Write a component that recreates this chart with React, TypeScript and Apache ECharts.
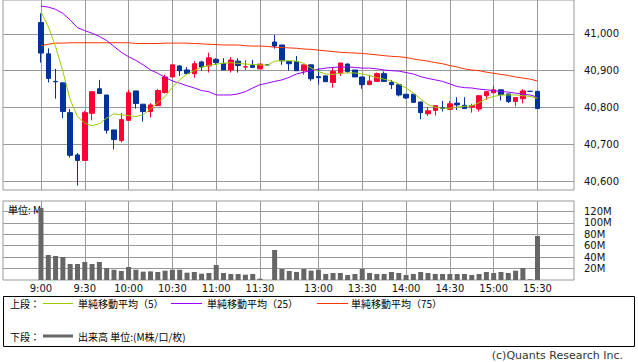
import React, { useEffect, useRef } from 'react';
import * as echarts from 'echarts';

// 5-minute slots (slot 31 is the lunch-break placeholder)
const times = [
  '9:00','9:05','9:10','9:15','9:20','9:25','9:30','9:35','9:40','9:45','9:50','9:55',
  '10:00','10:05','10:10','10:15','10:20','10:25','10:30','10:35','10:40','10:45','10:50','10:55',
  '11:00','11:05','11:10','11:15','11:20','11:25','11:30','12:25',
  '12:30','12:35','12:40','12:45','12:50','12:55',
  '13:00','13:05','13:10','13:15','13:20','13:25','13:30','13:35','13:40','13:45','13:50','13:55',
  '14:00','14:05','14:10','14:15','14:20','14:25','14:30','14:35','14:40','14:45','14:50','14:55',
  '15:00','15:05','15:10','15:15','15:20','15:25','15:30'
];

const openP = [
  41031,40946,40871,40867,40786,40671,40656,40784,40851,40834,
  40739,40710,40765,40845,40809,40789,40805,40841,40883,40913,
  40902,40892,40924,40913,40931,40920,40902,40926,40910,40914,
  40905,40916,40978,40970,40925,40925,40900,40916,40884,40886,
  40868,40894,40918,40902,40883,40862,40871,40892,40868,40862,
  40836,40836,40815,40783,40792,40800,40795,40812,40806,40801,
  40796,40832,40840,40848,40837,40816,40824,40844,40844
];
const closeP = [
  40948,40879,40870,40789,40670,40656,40786,40843,40838,40738,
  40713,40767,40840,40811,40789,40807,40846,40883,40916,40900,
  40892,40919,40910,40935,40922,40902,40929,40914,40911,40909,
  40918,40916,40967,40927,40919,40900,40916,40878,40881,40870,
  40898,40921,40898,40883,40862,40872,40892,40871,40862,40834,
  40826,40814,40786,40791,40805,40797,40810,40807,40797,40805,
  40832,40843,40848,40835,40816,40827,40845,40844,40797
];
const lowP = [
  40922,40868,40824,40771,40664,40588,40656,40765,40838,40729,
  40686,40705,40765,40797,40762,40773,40805,40838,40883,40886,
  40892,40881,40900,40895,40916,40902,40895,40895,40902,40909,
  40905,40916,40960,40916,40900,40900,40889,40872,40862,40870,
  40854,40886,40894,40883,40851,40862,40871,40871,40850,40830,
  40823,40814,40768,40777,40778,40789,40793,40793,40797,40786,
  40789,40821,40840,40819,40812,40803,40811,40844,40797
];
const highP = [
  41056,40961,40905,40867,40796,40676,40791,40843,40875,40834,
  40739,40785,40848,40845,40809,40812,40850,40889,40916,40915,
  40910,40926,40927,40949,40934,40934,40937,40934,40929,40929,
  40918,40916,40997,40970,40925,40940,40916,40916,40907,40886,
  40907,40921,40920,40902,40883,40889,40895,40898,40875,40862,
  40836,40836,40815,40801,40805,40818,40818,40828,40828,40810,
  40834,40843,40859,40848,40837,40827,40850,40844,40844
];

const sma5 = [
  41060,41020,40966,40898,40821,40775,40758,40750,40756,40771,
  40783,40780,40778,40775,40780,40796,40813,40830,40855,40875,
  40891,40900,40910,40914,40918,40920,40922,40920,40918,40917,
  40916,40915,40926,40927,40927,40926,40920,40907,40898,40891,
  40890,40893,40894,40894,40891,40887,40881,40877,40872,40864,
  40853,40839,40823,40808,40801,40798,40798,40801,40803,40805,
  40813,40824,40830,40834,40834,40834,40832,40830,40825
];
const sma25 = [
  41076,41073,41067,41056,41038,41017,41009,41002,40993,40982,
  40966,40950,40938,40928,40916,40902,40893,40882,40872,40866,
  40859,40853,40846,40843,40834,40834,40834,40837,40843,40853,
  40862,40866,40871,40875,40882,40891,40896,40900,40904,40907,
  40909,40910,40910,40909,40907,40907,40905,40902,40900,40899,
  40895,40891,40884,40879,40875,40871,40864,40857,40854,40853,
  40850,40848,40846,40843,40842,40839,40836,40834,40828
];
const sma75 = [
  40968,40972,40975,40975,40976,40976,40976,40976,40976,40976,
  40976,40976,40976,40974,40974,40974,40974,40975,40975,40975,
  40975,40974,40973,40972,40971,40970,40970,40970,40968,40967,
  40967,40966,40964,40963,40962,40961,40959,40958,40956,40954,
  40952,40950,40949,40948,40947,40945,40943,40941,40939,40938,
  40936,40932,40929,40926,40922,40919,40914,40910,40905,40902,
  40900,40896,40893,40890,40887,40883,40880,40877,40872
];

// volume in millions
const volume = [
  125.8,43.7,41.9,40.2,28,28,31.5,28,31.5,21,
  18,15.7,22.7,18,14.6,15.1,14,16.3,18,18,
  12.8,14,11,12.2,26.2,12.2,10.5,10.5,9.3,10.5,
  2.3,0,52.4,19.2,15.7,14,19.2,16.3,18,10.5,
  12.2,12.2,8.7,10.5,19.2,12.2,10.5,10.5,14,12.2,
  8.7,10.5,14,12.2,10.5,10.5,10.5,10.5,10.5,8.7,
  10.5,14,12.2,14,12.2,16.3,21,1.2,76.9
];

const tickSlots = [0, 6, 12, 18, 24, 30, 38, 44, 50, 56, 62, 68];
const tickLabels = ['9:00','9:30','10:00','10:30','11:00','11:30','13:00','13:30','14:00','14:30','15:00','15:30'];
const priceTicks = [40600, 40700, 40800, 40900, 41000];
const volTicks = [20, 40, 60, 80, 100, 120];

const legendItems = ['単純移動平均（5）', '単純移動平均（25）', '単純移動平均（75）'];

export default function App() {
  const ref = useRef<HTMLDivElement>(null);

  useEffect(() => {
    const chart = echarts.init(ref.current as HTMLDivElement, null, { renderer: 'svg' });
    const gridColor = '#999';
    const labelFont = { fontFamily: 'DejaVu Sans', fontSize: 10, color: '#111' };
    const cjk = '"Noto Sans CJK JP"';

    const candleData = times.map((t, i) => [i, openP[i], closeP[i], lowP[i], highP[i]]);
    const lineData = (arr: number[]) => arr.map((v, i) => [i, v]);
    const volData = volume.map((v, i) => [i, v]);

    const xBase = {
      type: 'value' as const,
      min: -5.2,
      max: 73,
      axisLine: { show: false },
      axisTick: { show: false, customValues: tickSlots },
      splitLine: { show: true, lineStyle: { color: gridColor, width: 1 } },
    };

    const option: any = {
      animation: false,
      backgroundColor: '#fff',
      grid: [
        { left: 3, right: 64, top: 0, height: 190, show: true, borderColor: gridColor, borderWidth: 1, backgroundColor: 'transparent' },
        { left: 3, right: 64, top: 201, height: 79, show: true, borderColor: gridColor, borderWidth: 1, backgroundColor: 'transparent' },
      ],
      xAxis: [
        { ...xBase, gridIndex: 0, axisLabel: { show: false, customValues: tickSlots } },
        {
          ...xBase,
          gridIndex: 1,
          axisLabel: {
            show: true,
            customValues: tickSlots,
            margin: 3,
            ...labelFont,
            formatter: (v: number) => {
              const k = tickSlots.indexOf(Math.round(v));
              return k >= 0 ? tickLabels[k] : '';
            },
          },
        },
      ],
      yAxis: [
        {
          type: 'value',
          gridIndex: 0,
          position: 'right',
          min: 40575.6,
          max: 41092.3,
          axisLine: { show: false },
          axisTick: { show: true, length: 6, customValues: priceTicks, lineStyle: { color: gridColor } },
          axisLabel: {
            customValues: priceTicks,
            margin: 10,
            ...labelFont,
            formatter: (v: number) => v.toLocaleString('en-US'),
          },
          splitLine: { show: true, lineStyle: { color: gridColor, width: 1 } },
        },
        {
          type: 'value',
          gridIndex: 1,
          position: 'right',
          min: 0,
          max: 138,
          axisLine: { show: false },
          axisTick: { show: true, length: 6, customValues: volTicks, lineStyle: { color: gridColor } },
          axisLabel: {
            customValues: volTicks,
            margin: 10,
            ...labelFont,
            formatter: (v: number) => v + 'M',
          },
          splitLine: { show: true, lineStyle: { color: gridColor, width: 1 } },
        },
      ],
      series: [
        {
          type: 'candlestick',
          xAxisIndex: 0,
          yAxisIndex: 0,
          barWidth: 5,
          data: candleData,
          itemStyle: {
            color: '#ff0033',
            color0: '#003399',
            borderColor: '#ff0033',
            borderColor0: '#003399',
            borderWidth: 1,
          },
          z: 2,
        },
        {
          type: 'line', xAxisIndex: 0, yAxisIndex: 0, data: lineData(sma75), symbol: 'none',
          lineStyle: { color: '#ff3300', width: 1 }, z: 3,
        },
        {
          type: 'line', xAxisIndex: 0, yAxisIndex: 0, data: lineData(sma25), symbol: 'none',
          lineStyle: { color: '#9900ff', width: 1 }, z: 3,
        },
        {
          type: 'line', xAxisIndex: 0, yAxisIndex: 0, data: lineData(sma5), symbol: 'none',
          lineStyle: { color: '#99cc00', width: 1 }, z: 3,
        },
        {
          type: 'bar', xAxisIndex: 1, yAxisIndex: 1, data: volData, barWidth: 5,
          itemStyle: { color: '#666666' }, z: 2,
        },
      ],
      graphic: [
        { type: 'text', z: 1, style: { text: '単位: M', x: 8, y: 209, verticalAlign: 'middle', font: `10px ${cjk}`, fill: '#000' } },
        { type: 'rect', shape: { x: 3.5, y: 296.5, width: 631, height: 50 }, style: { fill: '#fff', stroke: '#000', lineWidth: 1 } },
        { type: 'text', style: { text: '上段：', x: 10, y: 303.5, verticalAlign: 'middle', font: `10px ${cjk}`, fill: '#000' } },
        { type: 'line', shape: { x1: 43, y1: 303.5, x2: 73, y2: 303.5 }, style: { stroke: '#99cc00', lineWidth: 1 } },
        { type: 'text', style: { text: legendItems[0], x: 78, y: 303.5, verticalAlign: 'middle', font: `10px ${cjk}`, fill: '#000' } },
        { type: 'line', shape: { x1: 171, y1: 303.5, x2: 202, y2: 303.5 }, style: { stroke: '#9900ff', lineWidth: 1 } },
        { type: 'text', style: { text: legendItems[1], x: 207, y: 303.5, verticalAlign: 'middle', font: `10px ${cjk}`, fill: '#000' } },
        { type: 'line', shape: { x1: 317, y1: 303.5, x2: 348, y2: 303.5 }, style: { stroke: '#ff3300', lineWidth: 1 } },
        { type: 'text', style: { text: legendItems[2], x: 351, y: 303.5, verticalAlign: 'middle', font: `10px ${cjk}`, fill: '#000' } },
        { type: 'text', style: { text: '下段：', x: 10, y: 336, verticalAlign: 'middle', font: `10px ${cjk}`, fill: '#000' } },
        { type: 'line', shape: { x1: 43, y1: 336, x2: 73, y2: 336 }, style: { stroke: '#666666', lineWidth: 3 } },
        { type: 'text', style: { text: '出来高 単位:(M株/口/枚)', x: 78, y: 336, verticalAlign: 'middle', font: `10px ${cjk}`, fill: '#000' } },
        { type: 'text', style: { text: '(c)Quants Research Inc.', x: 623, y: 355, align: 'right', verticalAlign: 'middle', font: '11px "DejaVu Sans"', fill: '#333' } },
      ],
    };

    chart.setOption(option);
    return () => chart.dispose();
  }, []);

  return (
    <div
      ref={ref}
      style={{ position: 'fixed', left: 0, top: 0, width: 638, height: 362, background: '#fff' }}
    />
  );
}
